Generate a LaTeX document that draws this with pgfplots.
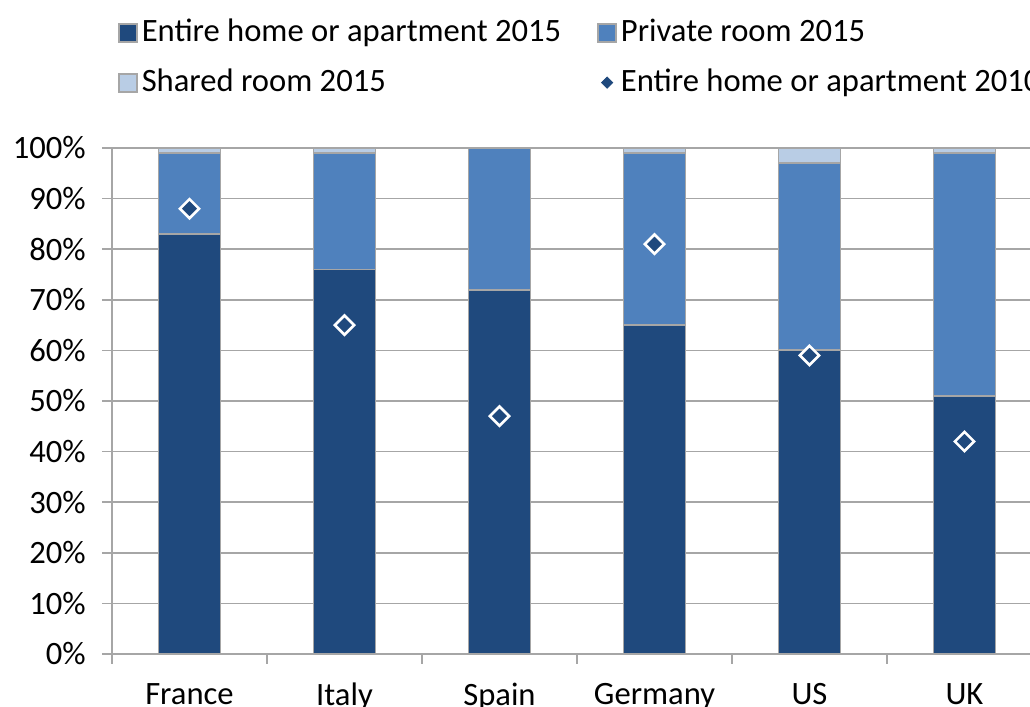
\documentclass[border=0pt]{standalone}
\usepackage{fontspec}
\setmainfont{Carlito}
\usepackage{pgfplots}
\pgfplotsset{compat=1.18}

\definecolor{entire}{HTML}{1F497D}
\definecolor{private}{HTML}{4F81BD}
\definecolor{shared}{HTML}{B9CDE5}
\definecolor{gridgray}{HTML}{A6A6A6}

\newcommand{\chartfont}{\fontsize{16.3}{19.5}\selectfont}

\pgfplotsset{
  base/.style={
    scale only axis,
    width=465pt, height=253pt,
    xmin=-0.5, xmax=5.5,
    ymin=0, ymax=100,
  },
  barkey/.style={
    legend image code/.code={
      \draw[##1, draw=gridgray, line width=0.9pt] (0pt,-4.5pt) rectangle (9pt,4.5pt);
    }
  },
}

\begin{document}
\chartfont
\begin{tikzpicture}
\begin{axis}[
    base,
    ybar stacked,
    bar width=31pt,
    font=\chartfont,
    axis x line*=bottom,
    axis y line*=left,
    axis line style={draw=gridgray, line width=0.8pt, -},
    ymajorgrids,
    grid style={draw=gridgray, line width=0.8pt},
    ytick={0,10,...,100},
    yticklabel={\pgfmathprintnumber{\tick}\%},
    /pgf/number format/assume math mode=true,
    yticklabel style={xshift=-2.5pt},
    xtick={0,...,5},
    xticklabels={France,Italy,Spain,Germany,US,UK},
    xticklabel style={yshift=-4pt},
    minor xtick={-0.5,0.5,...,5.5},
    tick align=outside,
    major tick length=5pt,
    minor tick length=5pt,
    major x tick style={draw=none},
    tick style={draw=gridgray, line width=0.8pt},
    legend columns=2,
    legend cell align=left,
    legend style={
      at={(axis description cs:0.006,1.263)}, anchor=north west,
      draw=none, inner sep=0pt, font=\chartfont, row sep=7pt,
      /tikz/every even column/.append style={column sep=16pt},
    },
]
\addplot[fill=entire, draw=gridgray, line width=0.9pt, barkey] coordinates {
  (0,83) (1,76) (2,72) (3,65) (4,60) (5,51)
};
\addlegendentry{Entire home or apartment 2015}
\addplot[fill=private, draw=gridgray, line width=0.9pt, barkey] coordinates {
  (0,16) (1,23) (2,28) (3,34) (4,37) (5,48)
};
\addlegendentry{Private room 2015}
\addplot[fill=shared, draw=gridgray, line width=0.9pt, barkey] coordinates {
  (0,1) (1,1) (2,0) (3,1) (4,3) (5,1)
};
\addlegendentry{Shared room 2015}
\addlegendimage{legend image code/.code={
  \fill[entire] (4.5pt,2.8pt) -- (7.3pt,0pt) -- (4.5pt,-2.8pt) -- (1.7pt,0pt) -- cycle;
}}
\addlegendentry{Entire home or apartment 2010}
\end{axis}

\begin{axis}[base, hide axis, clip=false]
\addplot[only marks, mark=square*, mark size=3.4pt,
  mark options={rotate=45, fill=entire, draw=white, line width=1.3pt}]
  coordinates {(0,88) (1,65) (2,47) (3,81) (4,59) (5,42)};
\end{axis}

\pgfresetboundingbox
\path (-56pt,-26.5pt) rectangle (459pt,327pt);
\end{tikzpicture}
\end{document}
